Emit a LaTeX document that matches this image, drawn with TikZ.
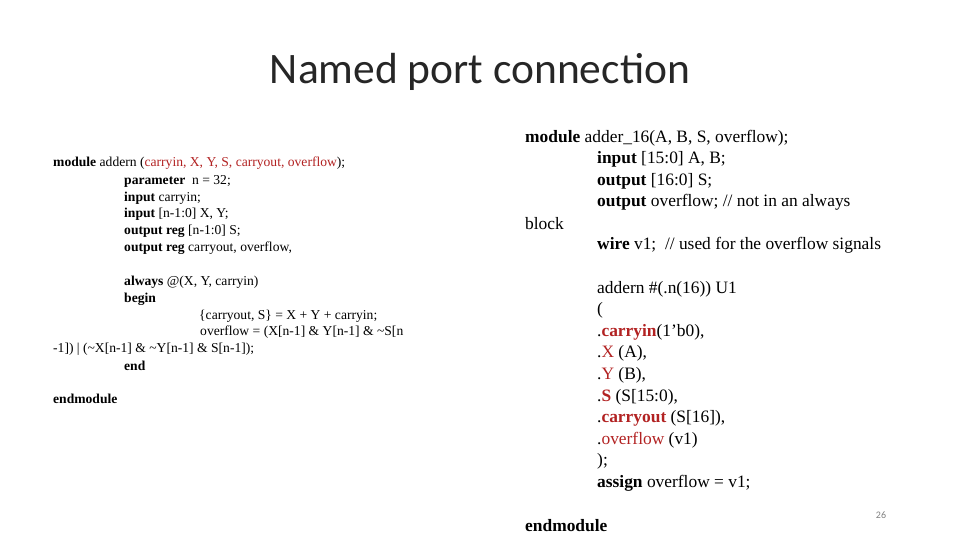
\documentclass[tikz,border=0pt]{standalone}
\usepackage{fontspec}
\setmainfont{Liberation Serif}
\newfontfamily\titlefont{Carlito}
\usetikzlibrary{positioning}
\definecolor{portred}{RGB}{178,34,34}
\tikzset{
  leftcode/.style={anchor=west,inner sep=0pt,font=\fontsize{13.6}{15}\selectfont},
  rightcode/.style={anchor=west,inner sep=0pt,font=\fontsize{17.4}{20}\selectfont},
}
\newcommand{\pr}[1]{\textcolor{portred}{#1}}
\begin{document}
\begin{tikzpicture}[x=1pt,y=-1pt]
\useasboundingbox (0,0) rectangle (960,540);
\node[font=\titlefont\fontsize{43.5}{48}\selectfont,text=black!85] (title) at (480,72) {Named port connection};
% left module
\node[leftcode] (l1) at (53,163) {\textbf{module} addern (\pr{carryin, X, Y, S, carryout, overflow});};
\node[leftcode] (l2) at (124,181) {\textbf{parameter}\ \ n = 32;};
\node[leftcode] (l3) at (124,198) {\textbf{input} carryin;};
\node[leftcode] (l4) at (124,214) {\textbf{input} [n-1:0] X, Y;};
\node[leftcode] (l5) at (124,231) {\textbf{output reg} [n-1:0] S;};
\node[leftcode] (l6) at (124,248) {\textbf{output reg} carryout, overflow,};
\node[leftcode] (l7) at (124,282) {\textbf{always} @(X, Y, carryin)};
\node[leftcode] (l8) at (124,299) {\textbf{begin}};
\node[leftcode] (l9) at (199,316) {\{carryout, S\} = X + Y + carryin;};
\node[leftcode] (l10) at (200,332) {overflow = (X[n-1] \& Y[n-1] \& \textasciitilde S[n};
\node[leftcode] (l11) at (53,349) {-1]) | (\textasciitilde X[n-1] \& \textasciitilde Y[n-1] \& S[n-1]);};
\node[leftcode] (l12) at (124,366) {\textbf{end}};
\node[leftcode] (l13) at (53,399) {\textbf{endmodule}};
% right module
\node[rightcode] (r1) at (525,138) {\textbf{module} adder\_16(A, B, S, overflow);};
\node[rightcode] (r2) at (597,159) {\textbf{input} [15:0] A, B;};
\node[rightcode] (r3) at (597,181) {\textbf{output} [16:0] S;};
\node[rightcode] (r4) at (597,202) {\textbf{output} overflow; // not in an always};
\node[rightcode] (r5) at (525,224) {block};
\node[rightcode] (r6) at (597,245) {\textbf{wire} v1;\ \ // used for the overflow signals};
\node[rightcode] (r7) at (597,289) {addern \#(.n(16)) U1};
\node[rightcode] (r8) at (597,310) {(};
\node[rightcode] (r9) at (597,332) {.\textbf{\pr{carryin}}(1’b0),};
\node[rightcode] (r10) at (597,353) {.\pr{X} (A),};
\node[rightcode] (r11) at (597,375) {.\pr{Y} (B),};
\node[rightcode] (r12) at (597,397) {.\textbf{\pr{S}} (S[15:0),};
\node[rightcode] (r13) at (597,418) {.\textbf{\pr{carryout}} (S[16]),};
\node[rightcode] (r14) at (597,440) {.\pr{overflow} (v1)};
\node[rightcode] (r15) at (597,461) {);};
\node[rightcode] (r16) at (597,483) {\textbf{assign} overflow = v1;};
\node[rightcode] (r17) at (525,526) {\textbf{endmodule}};
\node[font=\titlefont\fontsize{10}{12}\selectfont,text=gray] (page) at (881,515) {26};
\end{tikzpicture}
\end{document}
